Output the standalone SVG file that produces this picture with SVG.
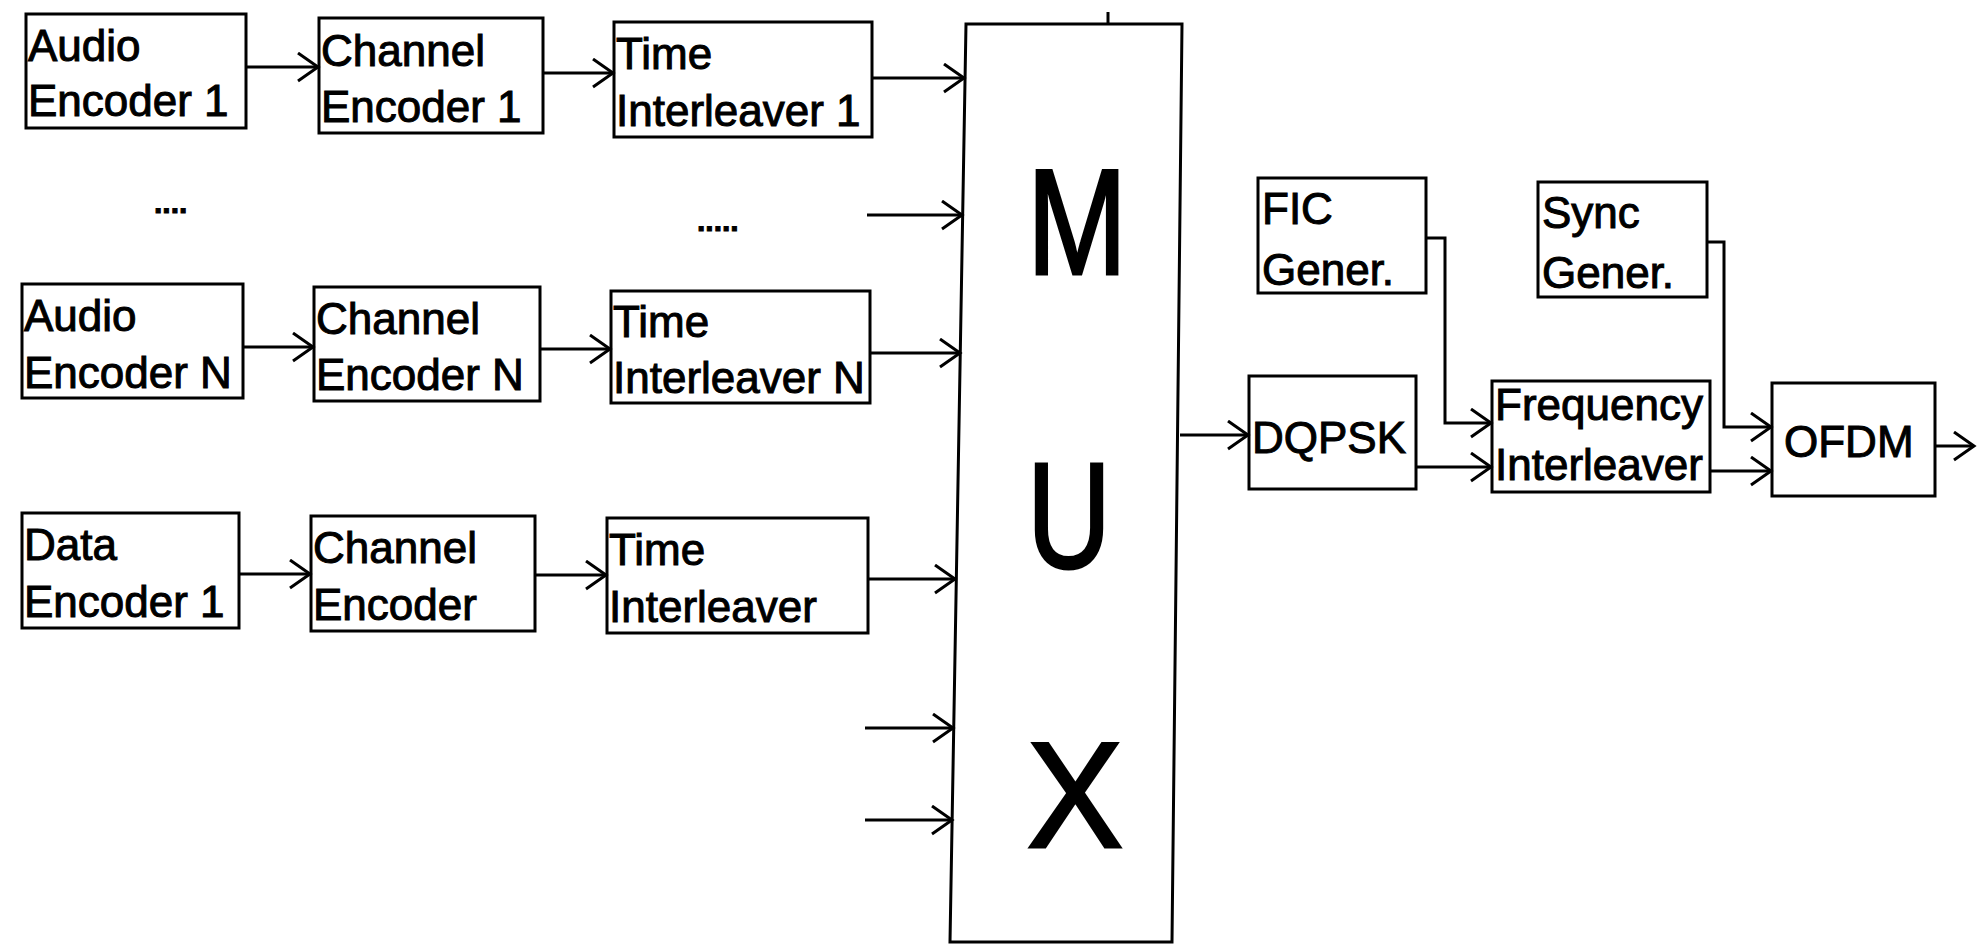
<svg xmlns="http://www.w3.org/2000/svg" width="1981" height="945" viewBox="0 0 1981 945">
<style>
  .box{fill:#fff;stroke:#000;stroke-width:3}
  .t{font-family:"Liberation Sans",Arial,sans-serif;font-size:44px;fill:#000;stroke:#000;stroke-width:1}
  .big{font-family:"Liberation Sans",Arial,sans-serif;font-size:150px;fill:#000;stroke:#000;stroke-width:3;text-anchor:middle}
  .c{fill:none;stroke:#000;stroke-width:3}
</style>
<defs>
  <marker id="ah" markerUnits="userSpaceOnUse" markerWidth="26" markerHeight="34" refX="22" refY="15" orient="auto">
    <path d="M2,1 L22,15 L2,29" fill="none" stroke="#000" stroke-width="3"/>
  </marker>
</defs>
<rect width="1981" height="945" fill="#fff"/>

<g id="audio-encoder-1"><rect class="box" x="26" y="14" width="220" height="114"/><text class="t" x="28" y="61">Audio</text><text class="t" x="28" y="116">Encoder 1</text></g>
<g id="channel-encoder-1"><rect class="box" x="319" y="18" width="224" height="115"/><text class="t" x="321" y="66">Channel</text><text class="t" x="321" y="122">Encoder 1</text></g>
<g id="time-interleaver-1"><rect class="box" x="614" y="22" width="258" height="115"/><text class="t" x="616" y="69">Time</text><text class="t" x="616" y="126">Interleaver 1</text></g>

<g id="audio-encoder-n"><rect class="box" x="22" y="284" width="221" height="114"/><text class="t" x="24" y="331">Audio</text><text class="t" x="24" y="388">Encoder N</text></g>
<g id="channel-encoder-n"><rect class="box" x="314" y="287" width="226" height="114"/><text class="t" x="316" y="334">Channel</text><text class="t" x="316" y="390">Encoder N</text></g>
<g id="time-interleaver-n"><rect class="box" x="611" y="291" width="259" height="112"/><text class="t" x="613" y="337">Time</text><text class="t" x="613" y="393">Interleaver N</text></g>

<g id="data-encoder-1"><rect class="box" x="22" y="513" width="217" height="115"/><text class="t" x="24" y="560">Data</text><text class="t" x="24" y="617">Encoder 1</text></g>
<g id="channel-encoder"><rect class="box" x="311" y="516" width="224" height="115"/><text class="t" x="313" y="563">Channel</text><text class="t" x="313" y="620">Encoder</text></g>
<g id="time-interleaver"><rect class="box" x="607" y="518" width="261" height="115"/><text class="t" x="609" y="565">Time</text><text class="t" x="609" y="622">Interleaver</text></g>

<g id="ellipsis-1"><text class="t" x="154" y="213" style="font-weight:bold;font-size:30px">....</text></g>
<g id="ellipsis-2"><text class="t" x="697" y="231" style="font-weight:bold;font-size:30px">.....</text></g>

<g id="mux">
  <polygon class="box" points="966,24 1182,24 1172,942 950,942"/>
  <line class="c" x1="1108" y1="12" x2="1108" y2="24"/>
  <text class="big" x="1077" y="274" textLength="100" lengthAdjust="spacingAndGlyphs">M</text>
  <text class="big" x="1069" y="568" textLength="84" lengthAdjust="spacingAndGlyphs">U</text>
  <text class="big" x="1075" y="847" textLength="96" lengthAdjust="spacingAndGlyphs">X</text>
</g>

<g id="fic-gener"><rect class="box" x="1258" y="178" width="168" height="115"/><text class="t" x="1262" y="224">FIC</text><text class="t" x="1262" y="285">Gener.</text></g>
<g id="sync-gener"><rect class="box" x="1538" y="182" width="169" height="115"/><text class="t" x="1542" y="228">Sync</text><text class="t" x="1542" y="288">Gener.</text></g>
<g id="dqpsk"><rect class="box" x="1249" y="376" width="167" height="113"/><text class="t" x="1252" y="453">DQPSK</text></g>
<g id="frequency-interleaver"><rect class="box" x="1492" y="381" width="218" height="111"/><text class="t" x="1495" y="420">Frequency</text><text class="t" x="1495" y="480">Interleaver</text></g>
<g id="ofdm"><rect class="box" x="1772" y="383" width="163" height="113"/><text class="t" x="1784" y="457">OFDM</text></g>

<g id="connectors">
  <line class="c" x1="246" y1="67" x2="318" y2="67" marker-end="url(#ah)"/>
  <line class="c" x1="543" y1="73" x2="613" y2="73" marker-end="url(#ah)"/>
  <line class="c" x1="872" y1="78" x2="964" y2="78" marker-end="url(#ah)"/>
  <line class="c" x1="867" y1="215" x2="962" y2="215" marker-end="url(#ah)"/>
  <line class="c" x1="870" y1="353" x2="960" y2="353" marker-end="url(#ah)"/>
  <line class="c" x1="243" y1="347" x2="313" y2="347" marker-end="url(#ah)"/>
  <line class="c" x1="540" y1="349" x2="610" y2="349" marker-end="url(#ah)"/>
  <line class="c" x1="239" y1="574" x2="310" y2="574" marker-end="url(#ah)"/>
  <line class="c" x1="535" y1="575" x2="606" y2="575" marker-end="url(#ah)"/>
  <line class="c" x1="868" y1="579" x2="955" y2="579" marker-end="url(#ah)"/>
  <line class="c" x1="865" y1="728" x2="953" y2="728" marker-end="url(#ah)"/>
  <line class="c" x1="865" y1="820" x2="952" y2="820" marker-end="url(#ah)"/>
  <line class="c" x1="1180" y1="435" x2="1248" y2="435" marker-end="url(#ah)"/>
  <line class="c" x1="1416" y1="467" x2="1491" y2="467" marker-end="url(#ah)"/>
  <polyline class="c" points="1426,238 1445,238 1445,423 1491,423" marker-end="url(#ah)"/>
  <line class="c" x1="1710" y1="471" x2="1771" y2="471" marker-end="url(#ah)"/>
  <polyline class="c" points="1707,242 1724,242 1724,427 1771,427" marker-end="url(#ah)"/>
  <line class="c" x1="1935" y1="446" x2="1974" y2="446" marker-end="url(#ah)"/>
</g>
</svg>
